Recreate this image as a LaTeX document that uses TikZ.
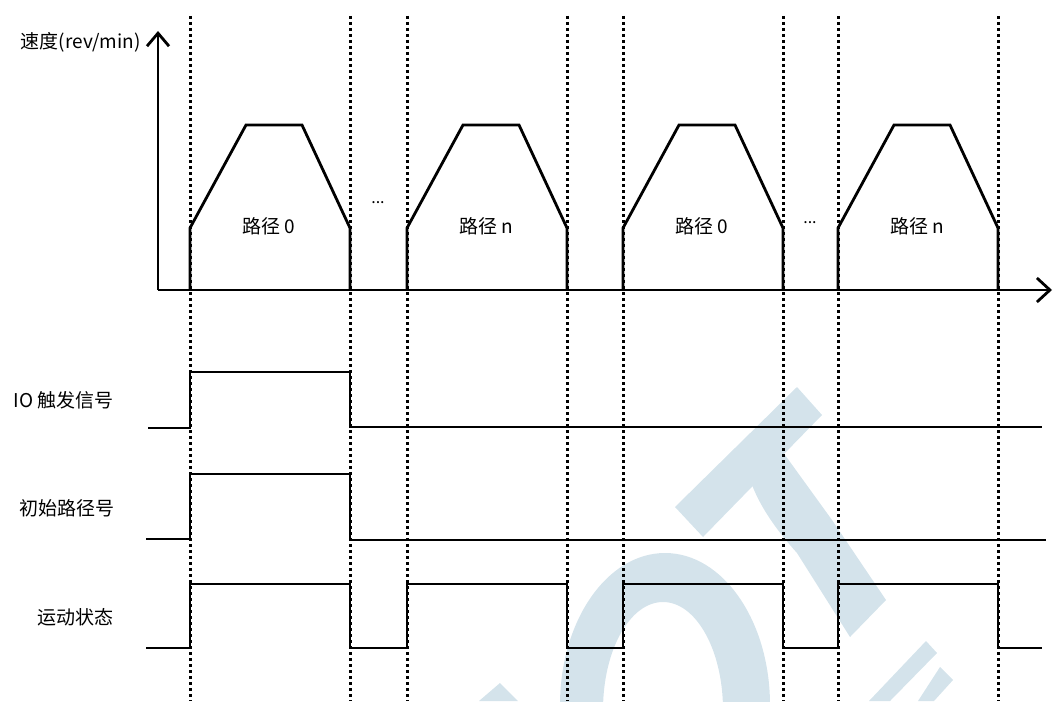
\documentclass[tikz,border=0pt]{standalone}
\usepackage{fontspec}
\setmainfont{Noto Sans CJK SC}
\usetikzlibrary{arrows.meta}
\definecolor{wm}{HTML}{D4E3EB}
\begin{document}
\begin{tikzpicture}[x=1pt,y=-1pt,
  sig/.style={line width=2.8pt, line join=miter},
  guide/.style={line width=3pt, dash pattern=on 3pt off 3pt},
  lbl/.style={font=\fontsize{19}{22}\selectfont, text=black, inner sep=0pt},
  wmark/.style={fill=wm, draw=none}]
\useasboundingbox (0,0) rectangle (1054,701);

% watermark (background logo)
\fill[wmark] (797,387) -- (822,415) -- (703,537) -- (675,507) -- cycle;
\fill[wmark] (748,436) .. controls (738,470) and (760,512) .. (797,553)
   -- (850,637) -- (886,600) -- (832,520) -- (785,455) -- cycle;
\fill[wmark, even odd rule] (665,705) ellipse [x radius=105pt, y radius=152pt]
   (663,710) ellipse [x radius=60pt, y radius=108pt];
\fill[wmark] (500,683) -- (518,701) -- (479,701) -- cycle;
\fill[wmark] (926,641) -- (937,653) -- (890,701) -- (869,701) -- cycle;
\fill[wmark] (940,667) -- (953,680) -- (934,701) -- (918,701) -- cycle;

% dotted guide lines
\foreach \gx [count=\k] in {190,350,407,567,623,783,838,998}{
  \coordinate (gt\k) at (\gx,16);
  \coordinate (gb\k) at (\gx,701);
  \draw[guide] (gt\k) -- (gb\k);
}

% axes
\coordinate (O) at (158,290);
\coordinate (ytip) at (158,31);
\coordinate (xtip) at (1052,290);
\draw[sig, -{Straight Barb[length=13pt,width=22pt]}] (O) -- (ytip);
\draw[sig, -{Straight Barb[length=13pt,width=24pt]}] (O) -- (xtip);
\node[lbl, anchor=east] (vlabel) at (141,42) {速度(rev/min)};

% speed profiles
\foreach \xl/\lab/\i in {190/0/a, 407/n/b, 623/0/c, 838/n/d}{
  \draw[sig] (\xl,290) -- (\xl,228) -- (\xl+56,125) -- (\xl+112,125)
     -- (\xl+160,228) -- (\xl+160,290);
  \node[lbl] (path\i) at (\xl+79,226) {路径 \lab};
}
\node[font=\fontsize{16}{18}\selectfont, inner sep=0pt, anchor=base] (dots1) at (378,203) {...};
\node[font=\fontsize{16}{18}\selectfont, inner sep=0pt, anchor=base] (dots2) at (810,223) {...};

% signals
\node[lbl, anchor=east] (io) at (114,400) {IO 触发信号};
\node[lbl, anchor=east] (init) at (115,508) {初始路径号};
\node[lbl, anchor=east] (move) at (114,617) {运动状态};

\draw[sig] (148,428) -- (190,428) -- (190,372) -- (350,372) -- (350,427) -- (1042,427);
\draw[sig] (146,539) -- (190,539) -- (190,474) -- (350,474) -- (350,540) -- (1046,540);
\draw[sig] (146,648) -- (190,648) -- (190,584) -- (350,584) -- (350,648)
  -- (407,648) -- (407,584) -- (567,584) -- (567,648)
  -- (623,648) -- (623,584) -- (783,584) -- (783,648)
  -- (838,648) -- (838,584) -- (998,584) -- (998,648) -- (1042,648);
\end{tikzpicture}
\end{document}
